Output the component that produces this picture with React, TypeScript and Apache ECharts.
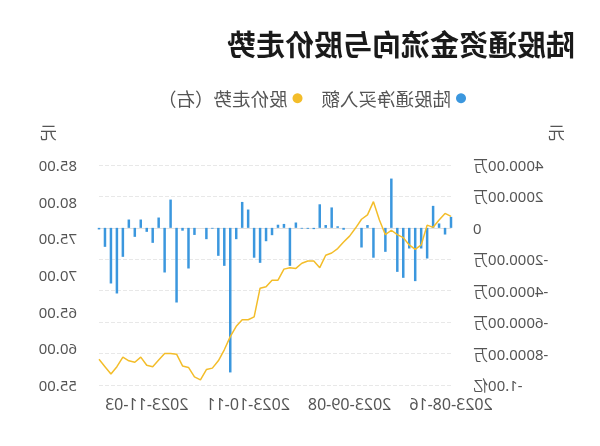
import React, { useEffect, useRef } from "react";
import * as echarts from "echarts";

const dates: string[] = [
  "2023-08-16", "2023-08-17", "2023-08-18", "2023-08-21", "2023-08-22", "2023-08-23", "2023-08-24", "2023-08-25", "2023-08-28", "2023-08-29",
  "2023-08-30", "2023-08-31", "2023-09-01", "2023-09-04", "2023-09-05", "2023-09-06", "2023-09-07", "2023-09-08", "2023-09-11", "2023-09-12",
  "2023-09-13", "2023-09-14", "2023-09-15", "2023-09-18", "2023-09-19", "2023-09-20", "2023-09-21", "2023-09-22", "2023-09-25", "2023-09-26",
  "2023-09-27", "2023-09-28", "2023-10-09", "2023-10-10", "2023-10-11", "2023-10-12", "2023-10-13", "2023-10-16", "2023-10-17", "2023-10-18",
  "2023-10-19", "2023-10-20", "2023-10-23", "2023-10-24", "2023-10-25", "2023-10-26", "2023-10-27", "2023-10-30", "2023-10-31", "2023-11-01",
  "2023-11-02", "2023-11-03", "2023-11-06", "2023-11-07", "2023-11-08", "2023-11-09", "2023-11-10", "2023-11-13", "2023-11-14", "2023-11-15",
];

// 陆股通净买入额, in 万元
const netBuy: number[] = [
  700, -424, 280, 1400, -1950, -1314, -3390, -1314, -3180, -2800,
  3137, -1526, 0, -1900, 180, -1250, 0, 0, -120, 100,
  1300, 180, 1500, -80, -60, -50, 340, -2417, 250, 200,
  -466, -850, -2226, -1900, 1166, 1650, -720, -9200, -2417, -1780,
  -50, -720, 0, -450, -2586, -180, -4750, 1800, -2840, 657,
  -954, -254, 530, -572, 530, -1844, -4176, -3540, -1208, -100,
];

// 股价走势, 元
const price: number[] = [
  78.0, 78.4, 77.5, 76.5, 76.8, 74.1, 73.5, 74.1, 75.1, 75.5,
  76.1, 75.5, 77.5, 80.0, 78.2, 77.6, 76.4, 75.3, 74.5, 73.6,
  73.0, 72.7, 71.0, 71.9, 71.9, 71.6, 70.9, 71.0, 70.8, 69.3,
  69.3, 68.4, 68.2, 64.3, 63.9, 63.9, 63.0, 61.6, 59.8, 58.3,
  57.3, 57.1, 55.7, 56.1, 57.4, 57.6, 59.2, 59.3, 59.3, 58.4,
  57.5, 57.7, 58.8, 58.1, 58.3, 58.8, 57.5, 56.5, 57.5, 58.5,
];

const seriesNames: string[] = ["陆股通净买入额", "股价走势（右）"];

const FONT = "'Noto Sans', 'Noto Sans CJK SC', sans-serif";

function fmtNet(v: number): string {
  if (v === 0) return "0";
  if (Math.abs(v) >= 10000) return (v / 10000).toFixed(2) + "亿";
  return v.toFixed(2) + "万";
}

export default function App() {
  const ref = useRef<HTMLDivElement>(null);
  useEffect(() => {
    if (!ref.current) return;
    const chart = echarts.init(ref.current, null, { renderer: "svg" });
    chart.setOption({
      animation: false,
      backgroundColor: "#ffffff",
      title: {
        text: "陆股通资金流向与股价走势",
        left: 20,
        top: 23,
        textStyle: { fontFamily: "'Noto Sans CJK SC', sans-serif", fontSize: 29, fontWeight: "bold", color: "#1a1a1a" },
      },
      legend: {
        left: 129,
        top: 84,
        itemWidth: 10,
        itemHeight: 10,
        itemGap: 19,
        icon: "circle",
        textStyle: { fontFamily: FONT, fontSize: 18.5, color: "#555" },
        data: seriesNames,
      },
      grid: { left: 149, right: 99, top: 165, bottom: 61 },
      xAxis: {
        type: "category",
        data: dates,
        boundaryGap: false,
        axisLine: { lineStyle: { color: "#e0e0e0" } },
        axisTick: { show: false },
        axisLabel: {
          fontFamily: FONT,
          fontSize: 16,
          color: "#555",
          margin: 11,
          interval: 16,
        },
      },
      yAxis: [
        {
          type: "value",
          min: -10000,
          max: 4000,
          interval: 2000,
          axisLine: { show: false },
          axisTick: { show: false },
          splitLine: { lineStyle: { color: "#e8e8e8", type: "dashed" } },
          axisLabel: { fontFamily: FONT, fontSize: 15, color: "#555", margin: 22, formatter: fmtNet },
        },
        {
          type: "value",
          min: 55,
          max: 85,
          interval: 5,
          axisLine: { show: false },
          axisTick: { show: false },
          splitLine: { show: false },
          axisLabel: {
            fontFamily: FONT,
            fontSize: 15,
            color: "#555",
            margin: 22,
            formatter: (v: number) => v.toFixed(2),
          },
        },
      ],
      graphic: [
        { type: "text", left: 35, top: 124, style: { text: "元", fontFamily: FONT, fontSize: 17, fill: "#555" } },
        { type: "text", left: 543, top: 124, style: { text: "元", fontFamily: FONT, fontSize: 17, fill: "#555" } },
      ],
      series: [
        {
          name: seriesNames[0],
          type: "bar",
          data: netBuy,
          yAxisIndex: 0,
          barWidth: 2.5,
          itemStyle: { color: "#3b97de" },
        },
        {
          name: seriesNames[1],
          type: "line",
          data: price,
          yAxisIndex: 1,
          symbol: "none",
          lineStyle: { color: "#f3bd2a", width: 1.5 },
          itemStyle: { color: "#f3bd2a" },
        },
      ],
    });
    return () => chart.dispose();
  }, []);
  return (
    <div
      ref={ref}
      style={{ position: "fixed", left: 0, top: 0, width: 600, height: 446, transform: "scaleX(-1)", background: "#fff" }}
    />
  );
}
